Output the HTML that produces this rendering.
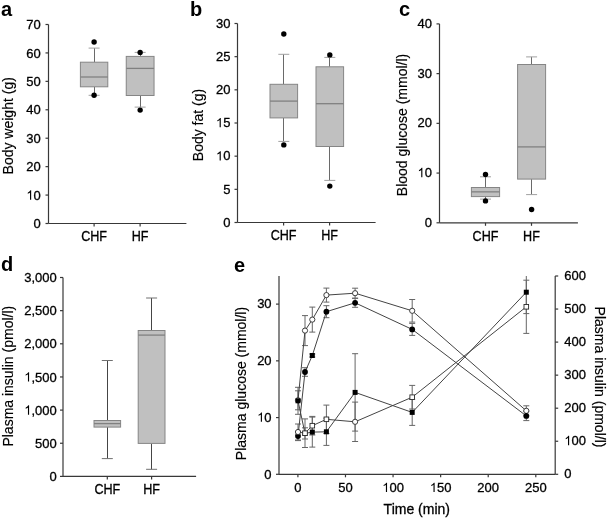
<!DOCTYPE html>
<html><head><meta charset="utf-8"><style>
html,body{margin:0;padding:0;background:#fff;}
svg{display:block;will-change:transform;}
text{font-family:"Liberation Sans",sans-serif;fill:#000;stroke:#000;stroke-width:0.3px;}
.one{fill:#000;stroke:#000;stroke-width:0.3px;}
</style></head><body>
<svg width="609" height="518" viewBox="0 0 609 518">
<rect width="609" height="518" fill="#fff"/>
<text x="1" y="15.5" font-size="20" text-anchor="start" font-weight="bold" style="stroke-width:0">a</text>
<line x1="48.5" y1="24.5" x2="48.5" y2="223.5" stroke="#383838" stroke-width="1.2" />
<line x1="45.5" y1="223.5" x2="48.5" y2="223.5" stroke="#383838" stroke-width="1.2" />
<text x="40.8" y="228.1" font-size="13" text-anchor="end" font-weight="normal" >0</text>
<line x1="45.5" y1="195.07142857142858" x2="48.5" y2="195.07142857142858" stroke="#383838" stroke-width="1.2" />
<text x="40.8" y="199.67142857142858" font-size="13" text-anchor="end" font-weight="normal" > 0</text>
<line x1="45.5" y1="166.64285714285714" x2="48.5" y2="166.64285714285714" stroke="#383838" stroke-width="1.2" />
<text x="40.8" y="171.24285714285713" font-size="13" text-anchor="end" font-weight="normal" >20</text>
<line x1="45.5" y1="138.21428571428572" x2="48.5" y2="138.21428571428572" stroke="#383838" stroke-width="1.2" />
<text x="40.8" y="142.81428571428572" font-size="13" text-anchor="end" font-weight="normal" >30</text>
<line x1="45.5" y1="109.78571428571429" x2="48.5" y2="109.78571428571429" stroke="#383838" stroke-width="1.2" />
<text x="40.8" y="114.38571428571429" font-size="13" text-anchor="end" font-weight="normal" >40</text>
<line x1="45.5" y1="81.35714285714286" x2="48.5" y2="81.35714285714286" stroke="#383838" stroke-width="1.2" />
<text x="40.8" y="85.95714285714286" font-size="13" text-anchor="end" font-weight="normal" >50</text>
<line x1="45.5" y1="52.928571428571416" x2="48.5" y2="52.928571428571416" stroke="#383838" stroke-width="1.2" />
<text x="40.8" y="57.52857142857142" font-size="13" text-anchor="end" font-weight="normal" >60</text>
<line x1="45.5" y1="24.5" x2="48.5" y2="24.5" stroke="#383838" stroke-width="1.2" />
<text x="40.8" y="29.1" font-size="13" text-anchor="end" font-weight="normal" >70</text>
<line x1="48.5" y1="223.5" x2="186.4" y2="223.5" stroke="#383838" stroke-width="1.2" />
<line x1="94.1" y1="223.5" x2="94.1" y2="226.5" stroke="#383838" stroke-width="1.2" />
<text transform="translate(94.1,241.0) scale(0.9,1)" font-size="14" text-anchor="middle">CHF</text>
<line x1="140.1" y1="223.5" x2="140.1" y2="226.5" stroke="#383838" stroke-width="1.2" />
<text transform="translate(140.1,241.0) scale(0.9,1)" font-size="14" text-anchor="middle">HF</text>
<text transform="translate(12.8,125.8) rotate(-90)" font-size="14" text-anchor="middle" style="stroke-width:0.15px">Body weight (g)</text>
<line x1="94.5" y1="48.1" x2="94.5" y2="62.2" stroke="#6a6a6a" stroke-width="1" />
<line x1="88.6" y1="48.1" x2="99.6" y2="48.1" stroke="#a0a0a0" stroke-width="1" />
<line x1="94.5" y1="86.8" x2="94.5" y2="95.3" stroke="#6a6a6a" stroke-width="1" />
<line x1="88.6" y1="95.3" x2="99.6" y2="95.3" stroke="#a0a0a0" stroke-width="1" />
<rect x="80.39999999999999" y="62.2" width="27.400000000000006" height="24.599999999999994" fill="#c0c0c0" stroke="#858585" stroke-width="1"/>
<line x1="80.39999999999999" y1="77.0" x2="107.8" y2="77.0" stroke="#808080" stroke-width="1.3" />
<circle cx="94.1" cy="41.95" r="2.7" fill="#000"/>
<circle cx="94.1" cy="95.3" r="2.7" fill="#000"/>
<line x1="140.5" y1="52.4" x2="140.5" y2="56.4" stroke="#6a6a6a" stroke-width="1" />
<line x1="134.65" y1="52.4" x2="145.65" y2="52.4" stroke="#a0a0a0" stroke-width="1" />
<line x1="140.5" y1="95.5" x2="140.5" y2="107.1" stroke="#6a6a6a" stroke-width="1" />
<line x1="134.65" y1="107.1" x2="145.65" y2="107.1" stroke="#a0a0a0" stroke-width="1" />
<rect x="126.25" y="56.4" width="27.80000000000001" height="39.1" fill="#c0c0c0" stroke="#858585" stroke-width="1"/>
<line x1="126.25" y1="68.4" x2="154.05" y2="68.4" stroke="#808080" stroke-width="1.3" />
<circle cx="140.15" cy="52.4" r="2.7" fill="#000"/>
<circle cx="140.15" cy="110.1" r="2.7" fill="#000"/>
<text x="190" y="15.5" font-size="20" text-anchor="start" font-weight="bold" style="stroke-width:0">b</text>
<line x1="237.5" y1="23.5" x2="237.5" y2="222.5" stroke="#383838" stroke-width="1.2" />
<line x1="234.5" y1="222.5" x2="237.5" y2="222.5" stroke="#383838" stroke-width="1.2" />
<text x="230.4" y="226.8" font-size="13" text-anchor="end" font-weight="normal" >0</text>
<line x1="234.5" y1="189.33333333333334" x2="237.5" y2="189.33333333333334" stroke="#383838" stroke-width="1.2" />
<text x="230.4" y="193.63333333333335" font-size="13" text-anchor="end" font-weight="normal" >5</text>
<line x1="234.5" y1="156.16666666666669" x2="237.5" y2="156.16666666666669" stroke="#383838" stroke-width="1.2" />
<text x="230.4" y="160.4666666666667" font-size="13" text-anchor="end" font-weight="normal" > 0</text>
<line x1="234.5" y1="123.0" x2="237.5" y2="123.0" stroke="#383838" stroke-width="1.2" />
<text x="230.4" y="127.3" font-size="13" text-anchor="end" font-weight="normal" > 5</text>
<line x1="234.5" y1="89.83333333333334" x2="237.5" y2="89.83333333333334" stroke="#383838" stroke-width="1.2" />
<text x="230.4" y="94.13333333333334" font-size="13" text-anchor="end" font-weight="normal" >20</text>
<line x1="234.5" y1="56.66666666666666" x2="237.5" y2="56.66666666666666" stroke="#383838" stroke-width="1.2" />
<text x="230.4" y="60.966666666666654" font-size="13" text-anchor="end" font-weight="normal" >25</text>
<line x1="234.5" y1="23.5" x2="237.5" y2="23.5" stroke="#383838" stroke-width="1.2" />
<text x="230.4" y="27.8" font-size="13" text-anchor="end" font-weight="normal" >30</text>
<line x1="237.5" y1="222.5" x2="375.6" y2="222.5" stroke="#383838" stroke-width="1.2" />
<line x1="283.6" y1="222.5" x2="283.6" y2="225.5" stroke="#383838" stroke-width="1.2" />
<text transform="translate(283.6,240.2) scale(0.9,1)" font-size="14" text-anchor="middle">CHF</text>
<line x1="329.6" y1="222.5" x2="329.6" y2="225.5" stroke="#383838" stroke-width="1.2" />
<text transform="translate(329.6,240.2) scale(0.9,1)" font-size="14" text-anchor="middle">HF</text>
<text transform="translate(202.7,125.0) rotate(-90)" font-size="14" text-anchor="middle" style="stroke-width:0.15px">Body fat (g)</text>
<line x1="283.5" y1="54.3" x2="283.5" y2="84.3" stroke="#6a6a6a" stroke-width="1" />
<line x1="278.3" y1="54.3" x2="289.3" y2="54.3" stroke="#a0a0a0" stroke-width="1" />
<line x1="283.5" y1="117.9" x2="283.5" y2="141.4" stroke="#6a6a6a" stroke-width="1" />
<line x1="278.3" y1="141.4" x2="289.3" y2="141.4" stroke="#a0a0a0" stroke-width="1" />
<rect x="270.0" y="84.3" width="27.600000000000023" height="33.60000000000001" fill="#c0c0c0" stroke="#858585" stroke-width="1"/>
<line x1="270.0" y1="101.1" x2="297.6" y2="101.1" stroke="#808080" stroke-width="1.3" />
<circle cx="283.8" cy="34.0" r="2.7" fill="#000"/>
<circle cx="283.8" cy="144.9" r="2.7" fill="#000"/>
<line x1="329.5" y1="57.4" x2="329.5" y2="66.8" stroke="#6a6a6a" stroke-width="1" />
<line x1="324.3" y1="57.4" x2="335.3" y2="57.4" stroke="#a0a0a0" stroke-width="1" />
<line x1="329.5" y1="146.5" x2="329.5" y2="180.4" stroke="#6a6a6a" stroke-width="1" />
<line x1="324.3" y1="180.4" x2="335.3" y2="180.4" stroke="#a0a0a0" stroke-width="1" />
<rect x="316.0" y="66.8" width="27.600000000000023" height="79.7" fill="#c0c0c0" stroke="#858585" stroke-width="1"/>
<line x1="316.0" y1="103.7" x2="343.6" y2="103.7" stroke="#808080" stroke-width="1.3" />
<circle cx="329.8" cy="54.9" r="2.7" fill="#000"/>
<circle cx="329.8" cy="186.1" r="2.7" fill="#000"/>
<text x="399" y="15.5" font-size="20" text-anchor="start" font-weight="bold" style="stroke-width:0">c</text>
<line x1="439.5" y1="23.9" x2="439.5" y2="222.8" stroke="#383838" stroke-width="1.2" />
<line x1="436.5" y1="222.8" x2="439.5" y2="222.8" stroke="#383838" stroke-width="1.2" />
<text x="432.0" y="226.9" font-size="13" text-anchor="end" font-weight="normal" >0</text>
<line x1="436.5" y1="173.07500000000002" x2="439.5" y2="173.07500000000002" stroke="#383838" stroke-width="1.2" />
<text x="432.0" y="177.175" font-size="13" text-anchor="end" font-weight="normal" > 0</text>
<line x1="436.5" y1="123.35000000000001" x2="439.5" y2="123.35000000000001" stroke="#383838" stroke-width="1.2" />
<text x="432.0" y="127.45" font-size="13" text-anchor="end" font-weight="normal" >20</text>
<line x1="436.5" y1="73.625" x2="439.5" y2="73.625" stroke="#383838" stroke-width="1.2" />
<text x="432.0" y="77.725" font-size="13" text-anchor="end" font-weight="normal" >30</text>
<line x1="436.5" y1="23.900000000000006" x2="439.5" y2="23.900000000000006" stroke="#383838" stroke-width="1.2" />
<text x="432.0" y="28.000000000000007" font-size="13" text-anchor="end" font-weight="normal" >40</text>
<line x1="439.5" y1="222.8" x2="577.9" y2="222.8" stroke="#383838" stroke-width="1.2" />
<line x1="485.5" y1="222.8" x2="485.5" y2="225.8" stroke="#383838" stroke-width="1.2" />
<text transform="translate(485.5,240.5) scale(0.9,1)" font-size="14" text-anchor="middle">CHF</text>
<line x1="531.5" y1="222.8" x2="531.5" y2="225.8" stroke="#383838" stroke-width="1.2" />
<text transform="translate(531.5,240.5) scale(0.9,1)" font-size="14" text-anchor="middle">HF</text>
<text transform="translate(406.8,125.0) rotate(-90)" font-size="14" text-anchor="middle" style="stroke-width:0.15px">Blood glucose (mmol/l)</text>
<line x1="485.5" y1="176.8" x2="485.5" y2="187.5" stroke="#6a6a6a" stroke-width="1" />
<line x1="480.0" y1="176.8" x2="491.0" y2="176.8" stroke="#a0a0a0" stroke-width="1" />
<line x1="485.5" y1="196.6" x2="485.5" y2="199.1" stroke="#6a6a6a" stroke-width="1" />
<line x1="480.0" y1="199.1" x2="491.0" y2="199.1" stroke="#a0a0a0" stroke-width="1" />
<rect x="471.4" y="187.5" width="28.200000000000045" height="9.099999999999994" fill="#c0c0c0" stroke="#858585" stroke-width="1"/>
<line x1="471.4" y1="191.85" x2="499.6" y2="191.85" stroke="#808080" stroke-width="1.3" />
<circle cx="485.5" cy="174.5" r="2.7" fill="#000"/>
<circle cx="485.5" cy="200.9" r="2.7" fill="#000"/>
<line x1="531.5" y1="56.9" x2="531.5" y2="64.5" stroke="#6a6a6a" stroke-width="1" />
<line x1="526.1" y1="56.9" x2="537.1" y2="56.9" stroke="#a0a0a0" stroke-width="1" />
<line x1="531.5" y1="179.1" x2="531.5" y2="194.6" stroke="#6a6a6a" stroke-width="1" />
<line x1="526.1" y1="194.6" x2="537.1" y2="194.6" stroke="#a0a0a0" stroke-width="1" />
<rect x="517.6" y="64.5" width="28.0" height="114.6" fill="#c0c0c0" stroke="#858585" stroke-width="1"/>
<line x1="517.6" y1="146.9" x2="545.6" y2="146.9" stroke="#808080" stroke-width="1.3" />
<circle cx="531.6" cy="209.5" r="2.7" fill="#000"/>
<text x="1" y="271.2" font-size="20" text-anchor="start" font-weight="bold" style="stroke-width:0">d</text>
<line x1="63" y1="277.5" x2="63" y2="476.4" stroke="#383838" stroke-width="1.2" />
<line x1="60" y1="476.4" x2="63" y2="476.4" stroke="#383838" stroke-width="1.2" />
<text x="56.8" y="481.0" font-size="13" text-anchor="end" font-weight="normal" >0</text>
<line x1="60" y1="443.25" x2="63" y2="443.25" stroke="#383838" stroke-width="1.2" />
<text x="56.8" y="447.85" font-size="13" text-anchor="end" font-weight="normal" >500</text>
<line x1="60" y1="410.09999999999997" x2="63" y2="410.09999999999997" stroke="#383838" stroke-width="1.2" />
<text x="56.8" y="414.7" font-size="13" text-anchor="end" font-weight="normal" > ,000</text>
<line x1="60" y1="376.95" x2="63" y2="376.95" stroke="#383838" stroke-width="1.2" />
<text x="56.8" y="381.55" font-size="13" text-anchor="end" font-weight="normal" > ,500</text>
<line x1="60" y1="343.79999999999995" x2="63" y2="343.79999999999995" stroke="#383838" stroke-width="1.2" />
<text x="56.8" y="348.4" font-size="13" text-anchor="end" font-weight="normal" >2,000</text>
<line x1="60" y1="310.65" x2="63" y2="310.65" stroke="#383838" stroke-width="1.2" />
<text x="56.8" y="315.25" font-size="13" text-anchor="end" font-weight="normal" >2,500</text>
<line x1="60" y1="277.5" x2="63" y2="277.5" stroke="#383838" stroke-width="1.2" />
<text x="56.8" y="282.1" font-size="13" text-anchor="end" font-weight="normal" >3,000</text>
<line x1="63" y1="476.4" x2="196.1" y2="476.4" stroke="#383838" stroke-width="1.2" />
<line x1="107.3" y1="476.4" x2="107.3" y2="479.4" stroke="#383838" stroke-width="1.2" />
<text transform="translate(107.3,493.5) scale(0.9,1)" font-size="14" text-anchor="middle">CHF</text>
<line x1="151.6" y1="476.4" x2="151.6" y2="479.4" stroke="#383838" stroke-width="1.2" />
<text transform="translate(151.6,493.5) scale(0.9,1)" font-size="14" text-anchor="middle">HF</text>
<text transform="translate(13,376.2) rotate(-90)" font-size="14" text-anchor="middle" style="stroke-width:0.15px">Plasma insulin (pmol/l)</text>
<line x1="107.5" y1="360.5" x2="107.5" y2="420.5" stroke="#454545" stroke-width="1" />
<line x1="101.8" y1="360.5" x2="112.8" y2="360.5" stroke="#707070" stroke-width="1" />
<line x1="107.5" y1="427.1" x2="107.5" y2="458.6" stroke="#454545" stroke-width="1" />
<line x1="101.8" y1="458.6" x2="112.8" y2="458.6" stroke="#707070" stroke-width="1" />
<rect x="94.0" y="420.5" width="26.599999999999994" height="6.600000000000023" fill="#c0c0c0" stroke="#858585" stroke-width="1"/>
<line x1="94.0" y1="423.6" x2="120.6" y2="423.6" stroke="#808080" stroke-width="1.3" />
<line x1="151.5" y1="298.0" x2="151.5" y2="330.5" stroke="#454545" stroke-width="1" />
<line x1="146.1" y1="298.0" x2="157.1" y2="298.0" stroke="#707070" stroke-width="1" />
<line x1="151.5" y1="443.4" x2="151.5" y2="469.3" stroke="#454545" stroke-width="1" />
<line x1="146.1" y1="469.3" x2="157.1" y2="469.3" stroke="#707070" stroke-width="1" />
<rect x="138.2" y="330.5" width="26.80000000000001" height="112.89999999999998" fill="#c0c0c0" stroke="#858585" stroke-width="1"/>
<line x1="138.2" y1="335.1" x2="165.0" y2="335.1" stroke="#808080" stroke-width="1.3" />
<text x="234" y="271.5" font-size="20" text-anchor="start" font-weight="bold" style="stroke-width:0">e</text>
<line x1="279" y1="276" x2="279" y2="474.3" stroke="#383838" stroke-width="1.2" />
<line x1="276" y1="474.3" x2="279" y2="474.3" stroke="#383838" stroke-width="1.2" />
<text x="271.6" y="478.5" font-size="13" text-anchor="end" font-weight="normal" >0</text>
<line x1="276" y1="417.57" x2="279" y2="417.57" stroke="#383838" stroke-width="1.2" />
<text x="271.6" y="421.77" font-size="13" text-anchor="end" font-weight="normal" > 0</text>
<line x1="276" y1="360.84000000000003" x2="279" y2="360.84000000000003" stroke="#383838" stroke-width="1.2" />
<text x="271.6" y="365.04" font-size="13" text-anchor="end" font-weight="normal" >20</text>
<line x1="276" y1="304.11" x2="279" y2="304.11" stroke="#383838" stroke-width="1.2" />
<text x="271.6" y="308.31" font-size="13" text-anchor="end" font-weight="normal" >30</text>
<line x1="555.2" y1="276" x2="555.2" y2="474.3" stroke="#383838" stroke-width="1.2" />
<line x1="555.2" y1="474.3" x2="558.2" y2="474.3" stroke="#383838" stroke-width="1.2" />
<text x="564.3" y="478.2" font-size="13" text-anchor="start" font-weight="normal" >0</text>
<line x1="555.2" y1="441.25" x2="558.2" y2="441.25" stroke="#383838" stroke-width="1.2" />
<text x="564.3" y="445.15" font-size="13" text-anchor="start" font-weight="normal" > 00</text>
<line x1="555.2" y1="408.2" x2="558.2" y2="408.2" stroke="#383838" stroke-width="1.2" />
<text x="564.3" y="412.09999999999997" font-size="13" text-anchor="start" font-weight="normal" >200</text>
<line x1="555.2" y1="375.15" x2="558.2" y2="375.15" stroke="#383838" stroke-width="1.2" />
<text x="564.3" y="379.04999999999995" font-size="13" text-anchor="start" font-weight="normal" >300</text>
<line x1="555.2" y1="342.1" x2="558.2" y2="342.1" stroke="#383838" stroke-width="1.2" />
<text x="564.3" y="346.0" font-size="13" text-anchor="start" font-weight="normal" >400</text>
<line x1="555.2" y1="309.05" x2="558.2" y2="309.05" stroke="#383838" stroke-width="1.2" />
<text x="564.3" y="312.95" font-size="13" text-anchor="start" font-weight="normal" >500</text>
<line x1="555.2" y1="276.0" x2="558.2" y2="276.0" stroke="#383838" stroke-width="1.2" />
<text x="564.3" y="279.9" font-size="13" text-anchor="start" font-weight="normal" >600</text>
<line x1="279" y1="474.3" x2="555.2" y2="474.3" stroke="#383838" stroke-width="1.2" />
<line x1="297.9" y1="474.3" x2="297.9" y2="477.3" stroke="#383838" stroke-width="1.2" />
<text x="297.9" y="492.0" font-size="13" text-anchor="middle" font-weight="normal" >0</text>
<line x1="345.47999999999996" y1="474.3" x2="345.47999999999996" y2="477.3" stroke="#383838" stroke-width="1.2" />
<text x="345.47999999999996" y="492.0" font-size="13" text-anchor="middle" font-weight="normal" >50</text>
<line x1="393.05999999999995" y1="474.3" x2="393.05999999999995" y2="477.3" stroke="#383838" stroke-width="1.2" />
<text x="393.05999999999995" y="492.0" font-size="13" text-anchor="middle" font-weight="normal" > 00</text>
<line x1="440.64" y1="474.3" x2="440.64" y2="477.3" stroke="#383838" stroke-width="1.2" />
<text x="440.64" y="492.0" font-size="13" text-anchor="middle" font-weight="normal" > 50</text>
<line x1="488.21999999999997" y1="474.3" x2="488.21999999999997" y2="477.3" stroke="#383838" stroke-width="1.2" />
<text x="488.21999999999997" y="492.0" font-size="13" text-anchor="middle" font-weight="normal" >200</text>
<line x1="535.8" y1="474.3" x2="535.8" y2="477.3" stroke="#383838" stroke-width="1.2" />
<text x="535.8" y="492.0" font-size="13" text-anchor="middle" font-weight="normal" >250</text>
<text transform="translate(246.4,383.5) rotate(-90)" font-size="14" text-anchor="middle" style="stroke-width:0.15px">Plasma glucose (mmol/l)</text>
<text transform="translate(595,377) rotate(90)" font-size="14" text-anchor="middle" style="stroke-width:0.15px">Plasma insulin (pmol/l)</text>
<text x="416.8" y="513.6" font-size="14" text-anchor="middle" font-weight="normal" >Time (min)</text>
<line x1="298" y1="424.0" x2="298" y2="440.0" stroke="#666" stroke-width="1" />
<line x1="295" y1="424.0" x2="301" y2="424.0" stroke="#666" stroke-width="1" />
<line x1="295" y1="440.0" x2="301" y2="440.0" stroke="#666" stroke-width="1" />
<line x1="305" y1="418.9" x2="305" y2="447.5" stroke="#666" stroke-width="1" />
<line x1="302" y1="418.9" x2="308" y2="418.9" stroke="#666" stroke-width="1" />
<line x1="302" y1="447.5" x2="308" y2="447.5" stroke="#666" stroke-width="1" />
<line x1="312.3" y1="416.4" x2="312.3" y2="435.0" stroke="#666" stroke-width="1" />
<line x1="309.3" y1="416.4" x2="315.3" y2="416.4" stroke="#666" stroke-width="1" />
<line x1="309.3" y1="435.0" x2="315.3" y2="435.0" stroke="#666" stroke-width="1" />
<line x1="326.4" y1="405.1" x2="326.4" y2="433.5" stroke="#666" stroke-width="1" />
<line x1="323.4" y1="405.1" x2="329.4" y2="405.1" stroke="#666" stroke-width="1" />
<line x1="323.4" y1="433.5" x2="329.4" y2="433.5" stroke="#666" stroke-width="1" />
<line x1="355.1" y1="402.1" x2="355.1" y2="441.5" stroke="#666" stroke-width="1" />
<line x1="352.1" y1="402.1" x2="358.1" y2="402.1" stroke="#666" stroke-width="1" />
<line x1="352.1" y1="441.5" x2="358.1" y2="441.5" stroke="#666" stroke-width="1" />
<line x1="412.2" y1="385.4" x2="412.2" y2="409.0" stroke="#666" stroke-width="1" />
<line x1="409.2" y1="385.4" x2="415.2" y2="385.4" stroke="#666" stroke-width="1" />
<line x1="409.2" y1="409.0" x2="415.2" y2="409.0" stroke="#666" stroke-width="1" />
<line x1="526.3" y1="280.2" x2="526.3" y2="333.40000000000003" stroke="#666" stroke-width="1" />
<line x1="523.3" y1="280.2" x2="529.3" y2="280.2" stroke="#666" stroke-width="1" />
<line x1="523.3" y1="333.40000000000003" x2="529.3" y2="333.40000000000003" stroke="#666" stroke-width="1" />
<line x1="298" y1="387.3" x2="298" y2="414.3" stroke="#666" stroke-width="1" />
<line x1="295" y1="387.3" x2="301" y2="387.3" stroke="#666" stroke-width="1" />
<line x1="295" y1="414.3" x2="301" y2="414.3" stroke="#666" stroke-width="1" />
<line x1="305" y1="427.79999999999995" x2="305" y2="439.0" stroke="#666" stroke-width="1" />
<line x1="302" y1="427.79999999999995" x2="308" y2="427.79999999999995" stroke="#666" stroke-width="1" />
<line x1="302" y1="439.0" x2="308" y2="439.0" stroke="#666" stroke-width="1" />
<line x1="312.3" y1="417.1" x2="312.3" y2="447.1" stroke="#666" stroke-width="1" />
<line x1="309.3" y1="417.1" x2="315.3" y2="417.1" stroke="#666" stroke-width="1" />
<line x1="309.3" y1="447.1" x2="315.3" y2="447.1" stroke="#666" stroke-width="1" />
<line x1="326.4" y1="418.2" x2="326.4" y2="445.40000000000003" stroke="#666" stroke-width="1" />
<line x1="323.4" y1="418.2" x2="329.4" y2="418.2" stroke="#666" stroke-width="1" />
<line x1="323.4" y1="445.40000000000003" x2="329.4" y2="445.40000000000003" stroke="#666" stroke-width="1" />
<line x1="355.1" y1="353.7" x2="355.1" y2="431.09999999999997" stroke="#666" stroke-width="1" />
<line x1="352.1" y1="353.7" x2="358.1" y2="353.7" stroke="#666" stroke-width="1" />
<line x1="352.1" y1="431.09999999999997" x2="358.1" y2="431.09999999999997" stroke="#666" stroke-width="1" />
<line x1="412.2" y1="399.4" x2="412.2" y2="425.4" stroke="#666" stroke-width="1" />
<line x1="409.2" y1="399.4" x2="415.2" y2="399.4" stroke="#666" stroke-width="1" />
<line x1="409.2" y1="425.4" x2="415.2" y2="425.4" stroke="#666" stroke-width="1" />
<line x1="526.3" y1="276" x2="526.3" y2="313.59999999999997" stroke="#666" stroke-width="1" />
<line x1="523.3" y1="313.59999999999997" x2="529.3" y2="313.59999999999997" stroke="#666" stroke-width="1" />
<line x1="298" y1="431.4" x2="298" y2="440.6" stroke="#666" stroke-width="1" />
<line x1="295" y1="431.4" x2="301" y2="431.4" stroke="#666" stroke-width="1" />
<line x1="295" y1="440.6" x2="301" y2="440.6" stroke="#666" stroke-width="1" />
<line x1="305" y1="367.7" x2="305" y2="376.3" stroke="#666" stroke-width="1" />
<line x1="302" y1="367.7" x2="308" y2="367.7" stroke="#666" stroke-width="1" />
<line x1="302" y1="376.3" x2="308" y2="376.3" stroke="#666" stroke-width="1" />
<line x1="312.3" y1="354.0" x2="312.3" y2="357.0" stroke="#666" stroke-width="1" />
<line x1="309.3" y1="354.0" x2="315.3" y2="354.0" stroke="#666" stroke-width="1" />
<line x1="309.3" y1="357.0" x2="315.3" y2="357.0" stroke="#666" stroke-width="1" />
<line x1="326.4" y1="305.7" x2="326.4" y2="317.7" stroke="#666" stroke-width="1" />
<line x1="323.4" y1="305.7" x2="329.4" y2="305.7" stroke="#666" stroke-width="1" />
<line x1="323.4" y1="317.7" x2="329.4" y2="317.7" stroke="#666" stroke-width="1" />
<line x1="355.1" y1="298.3" x2="355.1" y2="307.3" stroke="#666" stroke-width="1" />
<line x1="352.1" y1="298.3" x2="358.1" y2="298.3" stroke="#666" stroke-width="1" />
<line x1="352.1" y1="307.3" x2="358.1" y2="307.3" stroke="#666" stroke-width="1" />
<line x1="412.2" y1="323.4" x2="412.2" y2="335.4" stroke="#666" stroke-width="1" />
<line x1="409.2" y1="323.4" x2="415.2" y2="323.4" stroke="#666" stroke-width="1" />
<line x1="409.2" y1="335.4" x2="415.2" y2="335.4" stroke="#666" stroke-width="1" />
<line x1="526.3" y1="411.2" x2="526.3" y2="420.59999999999997" stroke="#666" stroke-width="1" />
<line x1="523.3" y1="411.2" x2="529.3" y2="411.2" stroke="#666" stroke-width="1" />
<line x1="523.3" y1="420.59999999999997" x2="529.3" y2="420.59999999999997" stroke="#666" stroke-width="1" />
<line x1="298" y1="390.8" x2="298" y2="409.8" stroke="#666" stroke-width="1" />
<line x1="295" y1="390.8" x2="301" y2="390.8" stroke="#666" stroke-width="1" />
<line x1="295" y1="409.8" x2="301" y2="409.8" stroke="#666" stroke-width="1" />
<line x1="305" y1="315.6" x2="305" y2="345.6" stroke="#666" stroke-width="1" />
<line x1="302" y1="315.6" x2="308" y2="315.6" stroke="#666" stroke-width="1" />
<line x1="302" y1="345.6" x2="308" y2="345.6" stroke="#666" stroke-width="1" />
<line x1="312.3" y1="307.1" x2="312.3" y2="332.1" stroke="#666" stroke-width="1" />
<line x1="309.3" y1="307.1" x2="315.3" y2="307.1" stroke="#666" stroke-width="1" />
<line x1="309.3" y1="332.1" x2="315.3" y2="332.1" stroke="#666" stroke-width="1" />
<line x1="326.4" y1="288.1" x2="326.4" y2="302.1" stroke="#666" stroke-width="1" />
<line x1="323.4" y1="288.1" x2="329.4" y2="288.1" stroke="#666" stroke-width="1" />
<line x1="323.4" y1="302.1" x2="329.4" y2="302.1" stroke="#666" stroke-width="1" />
<line x1="355.1" y1="288.2" x2="355.1" y2="298.2" stroke="#666" stroke-width="1" />
<line x1="352.1" y1="288.2" x2="358.1" y2="288.2" stroke="#666" stroke-width="1" />
<line x1="352.1" y1="298.2" x2="358.1" y2="298.2" stroke="#666" stroke-width="1" />
<line x1="412.2" y1="299.5" x2="412.2" y2="322.1" stroke="#666" stroke-width="1" />
<line x1="409.2" y1="299.5" x2="415.2" y2="299.5" stroke="#666" stroke-width="1" />
<line x1="409.2" y1="322.1" x2="415.2" y2="322.1" stroke="#666" stroke-width="1" />
<line x1="526.3" y1="405.8" x2="526.3" y2="415.8" stroke="#666" stroke-width="1" />
<line x1="523.3" y1="405.8" x2="529.3" y2="405.8" stroke="#666" stroke-width="1" />
<line x1="523.3" y1="415.8" x2="529.3" y2="415.8" stroke="#666" stroke-width="1" />
<polyline points="298,432.0 305,433.2 312.3,425.7 326.4,419.3 355.1,421.8 412.2,397.2 526.3,306.8" fill="none" stroke="#444" stroke-width="1"/>
<polyline points="298,400.8 305,433.4 312.3,432.1 326.4,431.8 355.1,392.4 412.2,412.4 526.3,292.2" fill="none" stroke="#444" stroke-width="1"/>
<polyline points="298,436.0 305,372.0 312.3,355.5 326.4,311.7 355.1,302.8 412.2,329.4 526.3,415.9" fill="none" stroke="#444" stroke-width="1"/>
<polyline points="298,400.3 305,330.6 312.3,319.6 326.4,295.1 355.1,293.2 412.2,310.8 526.3,410.8" fill="none" stroke="#444" stroke-width="1"/>
<circle cx="298" cy="400.3" r="2.6" fill="#fff" stroke="#2a2a2a" stroke-width="0.9"/>
<circle cx="305" cy="330.6" r="2.6" fill="#fff" stroke="#2a2a2a" stroke-width="0.9"/>
<circle cx="312.3" cy="319.6" r="2.6" fill="#fff" stroke="#2a2a2a" stroke-width="0.9"/>
<circle cx="326.4" cy="295.1" r="2.6" fill="#fff" stroke="#2a2a2a" stroke-width="0.9"/>
<circle cx="355.1" cy="293.2" r="2.6" fill="#fff" stroke="#2a2a2a" stroke-width="0.9"/>
<circle cx="412.2" cy="310.8" r="2.6" fill="#fff" stroke="#2a2a2a" stroke-width="0.9"/>
<circle cx="526.3" cy="410.8" r="2.6" fill="#fff" stroke="#2a2a2a" stroke-width="0.9"/>
<rect x="295.5" y="398.3" width="5" height="5" fill="#000"/>
<rect x="302.5" y="430.9" width="5" height="5" fill="#000"/>
<rect x="309.8" y="429.6" width="5" height="5" fill="#000"/>
<rect x="323.9" y="429.3" width="5" height="5" fill="#000"/>
<rect x="352.6" y="389.9" width="5" height="5" fill="#000"/>
<rect x="409.7" y="409.9" width="5" height="5" fill="#000"/>
<rect x="523.8" y="289.7" width="5" height="5" fill="#000"/>
<circle cx="298" cy="436.0" r="2.9" fill="#000"/>
<circle cx="305" cy="372.0" r="2.9" fill="#000"/>
<rect x="309.8" y="353.0" width="5" height="5" fill="#000"/>
<circle cx="326.4" cy="311.7" r="2.9" fill="#000"/>
<circle cx="355.1" cy="302.8" r="2.9" fill="#000"/>
<circle cx="412.2" cy="329.4" r="2.9" fill="#000"/>
<circle cx="526.3" cy="415.9" r="2.9" fill="#000"/>
<circle cx="298" cy="432.0" r="2.6" fill="#fff" stroke="#2a2a2a" stroke-width="0.9"/>
<rect x="302.7" y="430.9" width="4.6" height="4.6" fill="#fff" stroke="#2a2a2a" stroke-width="0.9"/>
<rect x="310.0" y="423.4" width="4.6" height="4.6" fill="#fff" stroke="#2a2a2a" stroke-width="0.9"/>
<rect x="324.09999999999997" y="417.0" width="4.6" height="4.6" fill="#fff" stroke="#2a2a2a" stroke-width="0.9"/>
<circle cx="355.1" cy="421.8" r="2.6" fill="#fff" stroke="#2a2a2a" stroke-width="0.9"/>
<rect x="409.9" y="394.9" width="4.6" height="4.6" fill="#fff" stroke="#2a2a2a" stroke-width="0.9"/>
<rect x="524.0" y="304.5" width="4.6" height="4.6" fill="#fff" stroke="#2a2a2a" stroke-width="0.9"/>
<path class="one" transform="translate(26.33,199.67) scale(0.006348,-0.006348)" d="M763 0L583 0L583 1147C540 1106 483 1064 412 1023C341 982 278 951 222 930L222 1104C323 1151 411 1209 486 1276C561 1343 614 1408 646 1472L763 1472Z"/>
<path class="one" transform="translate(215.93,160.47) scale(0.006348,-0.006348)" d="M763 0L583 0L583 1147C540 1106 483 1064 412 1023C341 982 278 951 222 930L222 1104C323 1151 411 1209 486 1276C561 1343 614 1408 646 1472L763 1472Z"/>
<path class="one" transform="translate(215.93,127.30) scale(0.006348,-0.006348)" d="M763 0L583 0L583 1147C540 1106 483 1064 412 1023C341 982 278 951 222 930L222 1104C323 1151 411 1209 486 1276C561 1343 614 1408 646 1472L763 1472Z"/>
<path class="one" transform="translate(417.53,177.18) scale(0.006348,-0.006348)" d="M763 0L583 0L583 1147C540 1106 483 1064 412 1023C341 982 278 951 222 930L222 1104C323 1151 411 1209 486 1276C561 1343 614 1408 646 1472L763 1472Z"/>
<path class="one" transform="translate(24.25,414.70) scale(0.006348,-0.006348)" d="M763 0L583 0L583 1147C540 1106 483 1064 412 1023C341 982 278 951 222 930L222 1104C323 1151 411 1209 486 1276C561 1343 614 1408 646 1472L763 1472Z"/>
<path class="one" transform="translate(24.25,381.55) scale(0.006348,-0.006348)" d="M763 0L583 0L583 1147C540 1106 483 1064 412 1023C341 982 278 951 222 930L222 1104C323 1151 411 1209 486 1276C561 1343 614 1408 646 1472L763 1472Z"/>
<path class="one" transform="translate(257.13,421.77) scale(0.006348,-0.006348)" d="M763 0L583 0L583 1147C540 1106 483 1064 412 1023C341 982 278 951 222 930L222 1104C323 1151 411 1209 486 1276C561 1343 614 1408 646 1472L763 1472Z"/>
<path class="one" transform="translate(564.30,445.15) scale(0.006348,-0.006348)" d="M763 0L583 0L583 1147C540 1106 483 1064 412 1023C341 982 278 951 222 930L222 1104C323 1151 411 1209 486 1276C561 1343 614 1408 646 1472L763 1472Z"/>
<path class="one" transform="translate(382.21,492.00) scale(0.006348,-0.006348)" d="M763 0L583 0L583 1147C540 1106 483 1064 412 1023C341 982 278 951 222 930L222 1104C323 1151 411 1209 486 1276C561 1343 614 1408 646 1472L763 1472Z"/>
<path class="one" transform="translate(429.79,492.00) scale(0.006348,-0.006348)" d="M763 0L583 0L583 1147C540 1106 483 1064 412 1023C341 982 278 951 222 930L222 1104C323 1151 411 1209 486 1276C561 1343 614 1408 646 1472L763 1472Z"/>
</svg>
</body></html>
